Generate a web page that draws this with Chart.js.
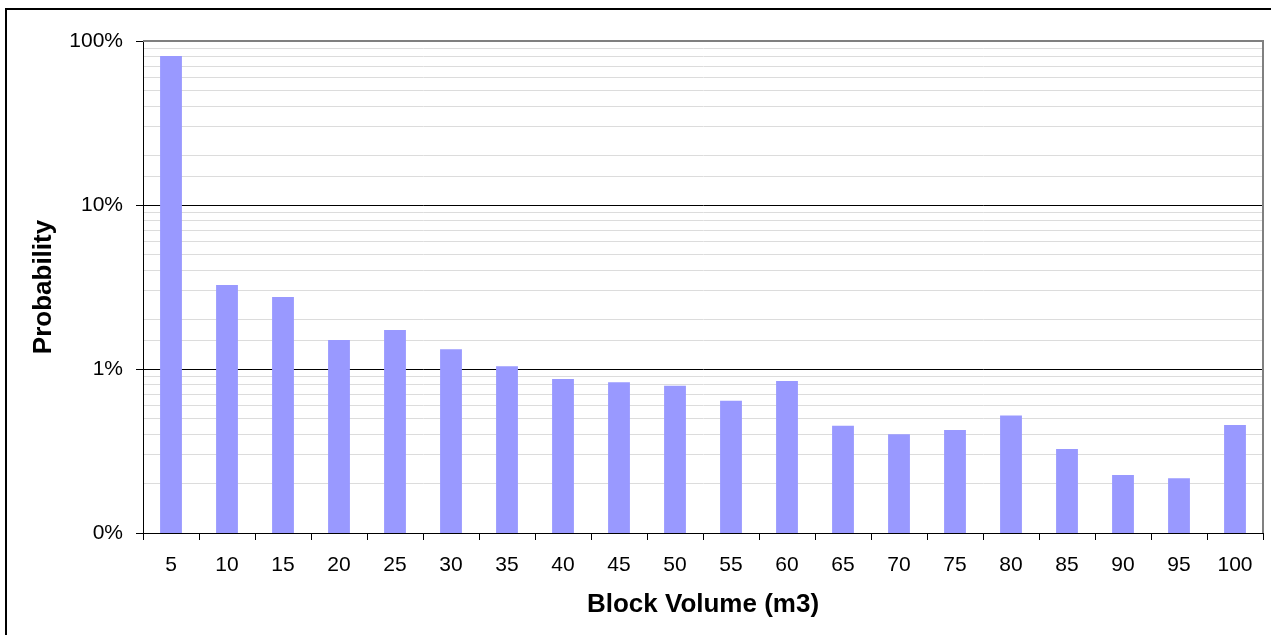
<!DOCTYPE html>
<html>
<head>
<meta charset="utf-8">
<script src="https://cdn.jsdelivr.net/npm/chart.js@4/dist/chart.umd.min.js"></script>
<style>
  html, body { margin: 0; padding: 0; background: #fff; overflow: hidden; }
  #wrap { position: relative; width: 1271px; height: 635px; }
  #frame { position: absolute; left: 5px; top: 8px; width: 1300px; height: 700px; border: 2px solid #000; box-sizing: border-box; pointer-events: none; }
  canvas { position: absolute; left: 0; top: 0; }
</style>
</head>
<body>
<div id="wrap">
  <div id="frame"></div>
  <canvas id="c" width="1271" height="635"></canvas>
</div>
<script>
// Block volume categories (m3)
const blockVolumes = ['5','10','15','20','25','30','35','40','45','50','55','60','65','70','75','80','85','90','95','100'];
// Probability (%)
const probability = [81, 3.25, 2.75, 1.5, 1.73, 1.32, 1.04, 0.87, 0.83, 0.79, 0.64, 0.845, 0.45, 0.40, 0.425, 0.52, 0.325, 0.226, 0.216, 0.456];
// Axis range (%) and titles
const yMin = 0.1;
const yMax = 100;
const xTitle = 'Block Volume (m3)';
const yTitle = 'Probability';

const FONT = "'Liberation Sans', Arial, sans-serif";

function isMajor(v) {
  const l = Math.log10(v);
  return Math.abs(l - Math.round(l)) < 1e-9;
}

const plotFrame = {
  id: 'plotFrame',
  afterDatasetsDraw(chart) {
    const {ctx, chartArea: a} = chart;
    ctx.save();
    ctx.strokeStyle = '#808080';
    ctx.lineWidth = 2;
    ctx.beginPath();
    ctx.moveTo(a.left, a.top);
    ctx.lineTo(a.right, a.top);
    ctx.lineTo(a.right, a.bottom);
    ctx.stroke();
    ctx.restore();
  }
};

new Chart(document.getElementById('c'), {
  type: 'bar',
  data: {
    labels: blockVolumes,
    datasets: [{
      data: probability,
      backgroundColor: '#9999FF',
      borderWidth: 0,
      barPercentage: 0.39,
      categoryPercentage: 1.0
    }]
  },
  options: {
    responsive: false,
    devicePixelRatio: 1,
    animation: false,
    layout: { padding: { left: 0, top: 41, right: 8, bottom: 0 } },
    plugins: { legend: { display: false }, tooltip: { enabled: false } },
    scales: {
      x: {
        type: 'category',
        offset: true,
        grid: {
          offset: true,
          drawOnChartArea: false,
          drawTicks: true,
          tickLength: 7,
          tickColor: '#000',
          tickWidth: 1
        },
        border: { display: true, color: '#000', width: 1 },
        ticks: {
          color: '#000',
          font: { family: FONT, size: 21 },
          padding: 13,
          maxRotation: 0,
          autoSkip: false
        },
        title: {
          display: true,
          text: xTitle,
          color: '#000',
          font: { family: FONT, size: 26, weight: 'bold' },
          padding: { top: 0, bottom: 15 }
        },
        afterFit(scale) { scale.height = 102; }
      },
      y: {
        type: 'logarithmic',
        min: yMin,
        max: yMax,
        grid: {
          color: ctx => (ctx.tick && isMajor(ctx.tick.value)) ? '#000' : '#dcdcdc',
          lineWidth: 1,
          drawTicks: true,
          tickLength: 7,
          tickColor: ctx => (ctx.tick && isMajor(ctx.tick.value)) ? '#000' : 'rgba(0,0,0,0)'
        },
        border: { display: true, color: '#000', width: 1 },
        ticks: {
          color: '#000',
          font: { family: FONT, size: 21 },
          padding: 13,
          autoSkip: false,
          callback: v => isMajor(v) ? Math.round(v) + '%' : ''
        },
        title: {
          display: true,
          text: yTitle,
          color: '#000',
          font: { family: FONT, size: 26, weight: 'bold' },
          padding: { top: 28, bottom: 0 }
        },
        afterFit(scale) { scale.width = 143; }
      }
    }
  },
  plugins: [plotFrame]
});
</script>
</body>
</html>
